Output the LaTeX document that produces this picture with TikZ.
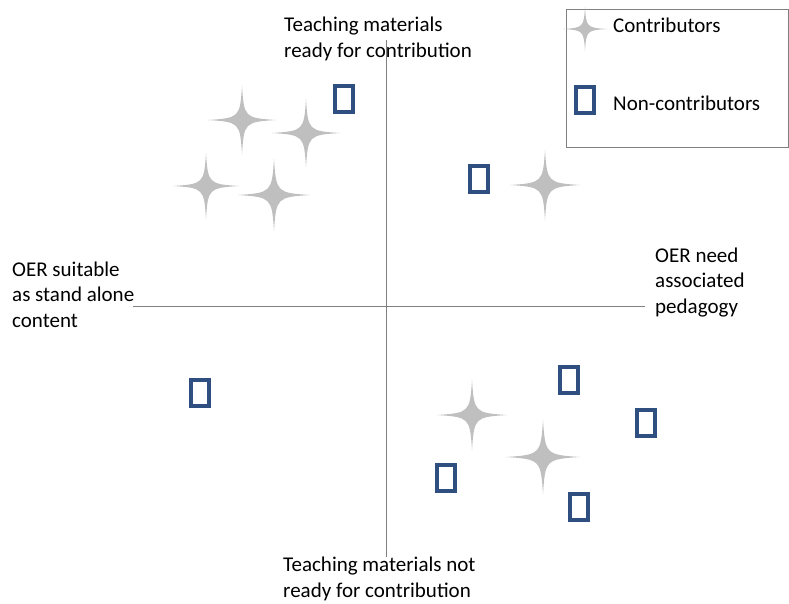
\documentclass[tikz,border=0pt]{standalone}
\usepackage{fontspec}
\setmainfont{Carlito}
\definecolor{stargray}{RGB}{191,191,191}
\definecolor{ncblue}{RGB}{47,79,128}
\definecolor{axisgray}{RGB}{128,128,128}
\begin{document}
\begin{tikzpicture}[x=1pt,y=-1pt]

    \tikzset{
      contrib/.pic={
        \fill[stargray] (1,0) .. controls (.08,.06) and (.06,.08) .. (0,1)
          .. controls (-.06,.08) and (-.08,.06) .. (-1,0)
          .. controls (-.08,-.06) and (-.06,-.08) .. (0,-1)
          .. controls (.06,-.08) and (.08,-.06) .. cycle;
      },
      noncontrib/.style={
        draw=ncblue,
        line width=4pt,
        fill=white,
        inner sep=0pt,
        minimum width=18pt,
        minimum height=26pt,
      },
      axislabel/.style={
        anchor=base west,
        align=left,
        inner sep=0pt,
        font=\fontsize{21}{25.5}\selectfont,
      },
    }
    \useasboundingbox (0,0) rectangle (789,603);
    % legend
    \draw[axisgray, line width=1pt] (566,9) rectangle (788,147);
    \pic[scale=22] at (585,29) {contrib};
    \node[axislabel] (lcontrib) at (613,32) {Contributors};
    \node[noncontrib] (lnon) at (585,100) {};
    \node[axislabel] (lnoncontrib) at (613,110) {Non-contributors};
    % axes (base anchor = last line)
	\coordinate (top) at (386,40);
	\coordinate (bottom) at (386,557);
	\coordinate (left) at (133,306);
	\coordinate (right) at (645,306);
	\draw[axisgray, line width=1pt] (top) -- (bottom);
	\draw[axisgray, line width=1pt] (left) -- (right);
	\node[axislabel] (ready) at (284,57) {Teaching materials\\ready for contribution};
	\node[axislabel] (notready) at (283,597) {Teaching materials not\\ready for contribution};
	\node[axislabel] (standalone) at (12,327) {OER suitable\\as stand alone\\content};
	\node[axislabel] (pedagogy) at (655,313) {OER need\\associated\\pedagogy};
    % contributors
	\pic[scale=34] at (242,120) {contrib};
	\pic[scale=34] at (306,133) {contrib};
	\pic[scale=33] at (206,186) {contrib};
	\pic[scale=36] at (274,195) {contrib};
	\pic[scale=35] at (545,185) {contrib};
	\pic[scale=35] at (472,415) {contrib};
	\pic[scale=37] at (543,457) {contrib};
    % non-contributors
	\node[noncontrib] (n1) at (344,99) {};
	\node[noncontrib] (n2) at (479,179) {};
	\node[noncontrib] (n3) at (200,393) {};
	\node[noncontrib] (n4) at (569,380) {};
	\node[noncontrib] (n5) at (646,423) {};
	\node[noncontrib] (n6) at (446,478) {};
	\node[noncontrib] (n7) at (579,507) {};

\end{tikzpicture}
\end{document}
